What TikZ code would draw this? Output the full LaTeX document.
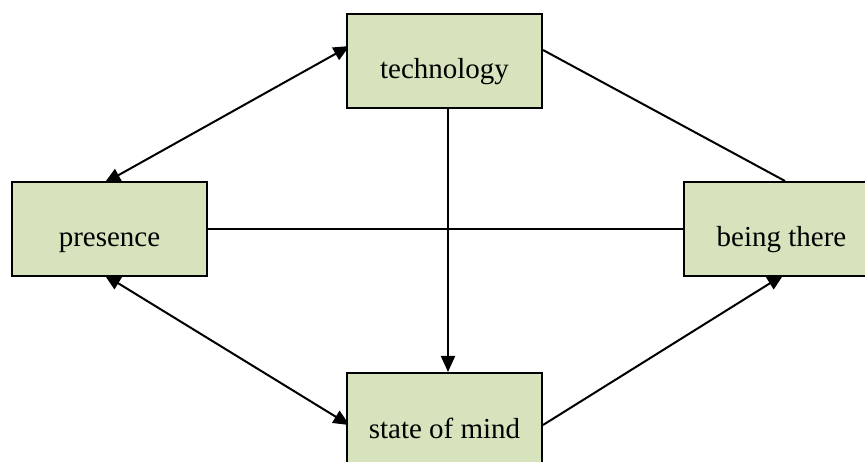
\documentclass[tikz,border=0pt]{standalone}
\usepackage{fontspec}
\setmainfont{Liberation Serif}
\usetikzlibrary{arrows.meta,backgrounds}
\definecolor{boxgreen}{HTML}{D6E3BC}
\begin{document}
\begin{tikzpicture}[x=1pt,y=-1pt,
  box/.style={draw=black, line width=2pt, fill=boxgreen, minimum width=195pt,
    minimum height=94pt, inner sep=0pt, font=\fontsize{29}{34}\selectfont,
    text height=37pt, text depth=1pt},
  conn/.style={line width=2pt, draw=black},
  tri/.tip={Triangle[length=16pt,width=14pt]}]
\clip (0,0) rectangle (865,462);
\node[box] (tech) at (444.5,61) {technology};
\node[box] (pres) at (109.5,229) {presence};
\node[box] (being) at (781.5,229) {being there};
\node[box] (mind) at (444.5,420) {state of mind};
\begin{scope}[on background layer]
\fill[white] (0,0) rectangle (865,462);
\draw[conn, tri-tri, shorten <=-4pt, shorten >=-4pt] ([xshift=-1.5pt]pres.north) -- ([yshift=13pt]tech.west);
\draw[conn, tri-tri, shorten <=-4pt, shorten >=-4pt] ([xshift=-1.5pt]pres.south) -- ([yshift=-3pt]mind.west);
\draw[conn] ([yshift=11pt]tech.east) -- ([xshift=3.5pt]being.north);
\draw[conn, -tri, shorten >=-4pt] ([yshift=-5pt]mind.east) -- ([xshift=-1.5pt]being.south);
\draw[conn, -tri] ([xshift=3.5pt]tech.south) -- ([xshift=3.5pt]mind.north);
\draw[conn] (pres.east) -- (being.west);
\end{scope}
\end{tikzpicture}
\end{document}
